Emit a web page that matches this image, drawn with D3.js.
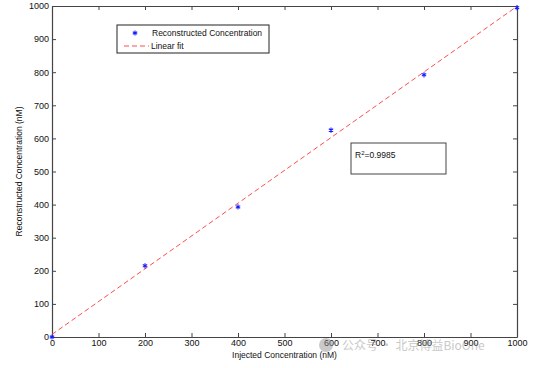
<!DOCTYPE html>
<html>
<head>
<meta charset="utf-8">
<script src="https://cdn.jsdelivr.net/npm/d3@7"></script>
<style>
  body { margin: 0; background: #fff; }
  svg { display: block; font-family: "Liberation Sans", Arial, sans-serif; }
</style>
</head>
<body>
<svg width="534" height="368"></svg>
<script>
// data
const injected = [0, 200, 400, 600, 800, 1000]
const reconstructed = [0, 215, 393, 625, 792, 995]
const xTicks = [0, 100, 200, 300, 400, 500, 600, 700, 800, 900, 1000]
const yTicks = [0, 100, 200, 300, 400, 500, 600, 700, 800, 900, 1000]
const rSquared = "0.9985"

///////////////////////////////////////////
//////////////// Constants ////////////////
///////////////////////////////////////////
const margin = {left: 52, right: 17, top: 6, bottom: 31}
const width = 534
const height = 368
const axisColour = "#444"
const markerColour = "#1a1aff"
const fitColour = "#ff4d4d"

const svg = d3.select("svg")

const x = d3.scaleLinear().domain([0, 1000]).range([margin.left, width - margin.right])
const y = d3.scaleLinear().domain([0, 1000]).range([height - margin.bottom, margin.top])

// least squares fit
const mx = d3.mean(injected), my = d3.mean(reconstructed)
const slope = d3.sum(injected, (d, i) => (d - mx) * (reconstructed[i] - my)) /
  d3.sum(injected, d => (d - mx) ** 2)
const intercept = my - slope * mx

///////////////////////////////////////////
////////////////// Axes ///////////////////
///////////////////////////////////////////
const tickLen = 4
const fmt = d3.format("d")
const styleAxis = g => {
  g.select(".domain").attr("stroke", axisColour).attr("stroke-width", 1.2)
  g.selectAll(".tick line").attr("stroke", axisColour)
  g.selectAll(".tick text").attr("fill", "#111").style("font-size", "9px")
}

svg.append("g")
  .attr("transform", `translate(0,${y(0)})`)
  .call(d3.axisBottom(x).tickValues(xTicks).tickSize(-tickLen).tickSizeOuter(0).tickPadding(3).tickFormat(fmt))
  .call(styleAxis)

svg.append("g")
  .attr("transform", `translate(0,${y(1000)})`)
  .call(d3.axisTop(x).tickValues(xTicks).tickSize(-tickLen).tickSizeOuter(0).tickFormat(""))
  .call(styleAxis)

svg.append("g")
  .attr("transform", `translate(${x(0)},0)`)
  .call(d3.axisLeft(y).tickValues(yTicks).tickSize(-tickLen).tickSizeOuter(0).tickPadding(3).tickFormat(fmt))
  .call(styleAxis)

svg.append("g")
  .attr("transform", `translate(${x(1000)},0)`)
  .call(d3.axisRight(y).tickValues(yTicks).tickSize(-tickLen).tickSizeOuter(0).tickFormat(""))
  .call(styleAxis)

// axis labels
svg.append("text")
  .attr("x", x(500)).attr("y", 358)
  .attr("text-anchor", "middle")
  .style("font-size", "8.5px").attr("fill", "#111")
  .text("Injected Concentration (nM)")

svg.append("text")
  .attr("transform", `translate(22,${y(500)}) rotate(-90)`)
  .attr("text-anchor", "middle")
  .style("font-size", "8.5px").attr("fill", "#111")
  .text("Reconstructed Concentration (nM)")

///////////////////////////////////////////
////////////// Fit and points /////////////
///////////////////////////////////////////
svg.append("line")
  .attr("x1", x(0)).attr("y1", y(intercept))
  .attr("x2", x(1000)).attr("y2", y(intercept + slope * 1000))
  .attr("stroke", fitColour)
  .attr("stroke-width", 1)
  .attr("stroke-dasharray", "5 3")

const star = d3.symbol().type(d3.symbolAsterisk).size(18)
svg.append("g")
  .selectAll("path")
  .data(injected)
  .join("path")
    .attr("transform", (d, i) => `translate(${x(d)},${y(reconstructed[i])})`)
    .attr("d", star)
    .attr("fill", "none")
    .attr("stroke", markerColour)
    .attr("stroke-width", 1.1)

///////////////////////////////////////////
///////////////// Legend //////////////////
///////////////////////////////////////////
const legend = svg.append("g").attr("transform", "translate(117,25)")
legend.append("rect")
  .attr("width", 152).attr("height", 28)
  .attr("fill", "#fff").attr("stroke", "#222").attr("stroke-width", 1)
legend.append("path")
  .attr("transform", "translate(18,8)")
  .attr("d", star)
  .attr("fill", "none").attr("stroke", markerColour).attr("stroke-width", 1.1)
legend.append("text")
  .attr("x", 35).attr("y", 11)
  .style("font-size", "8.5px").attr("fill", "#111")
  .text("Reconstructed Concentration")
legend.append("line")
  .attr("x1", 7).attr("x2", 32).attr("y1", 21).attr("y2", 21)
  .attr("stroke", fitColour).attr("stroke-dasharray", "5 3")
legend.append("text")
  .attr("x", 34).attr("y", 24)
  .style("font-size", "8.5px").attr("fill", "#111")
  .text("Linear fit")

// R squared box
const rBox = svg.append("g").attr("transform", "translate(351,143)")
rBox.append("rect")
  .attr("width", 95).attr("height", 31)
  .attr("fill", "#fff").attr("stroke", "#444").attr("stroke-width", 1)
const rText = rBox.append("text")
  .attr("x", 4).attr("y", 15)
  .style("font-size", "8.5px").attr("fill", "#111")
rText.append("tspan").text("R")
rText.append("tspan").attr("dy", -3).style("font-size", "6px").text("2")
rText.append("tspan").attr("dy", 3).text("=" + rSquared)

// faint watermark
const wm = svg.append("g").attr("opacity", 0.45)
wm.append("circle").attr("cx", 326).attr("cy", 345).attr("r", 7).attr("fill", "#888")
wm.append("text")
  .attr("x", 342).attr("y", 350)
  .attr("fill", "#888")
  .style("font-family", "'Noto Sans CJK SC', sans-serif")
  .style("font-size", "12px")
  .text("公众号 · 北京博益BioOne")
</script>
</body>
</html>
